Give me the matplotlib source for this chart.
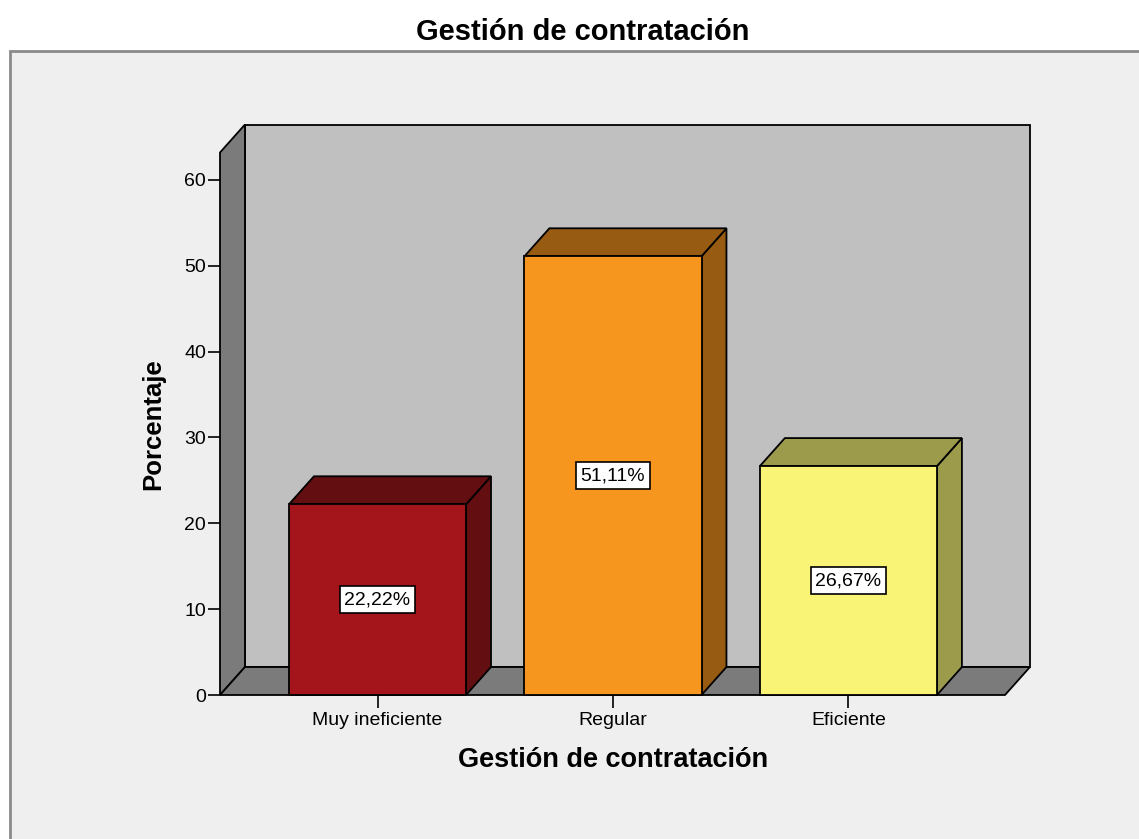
import matplotlib
matplotlib.use("Agg")
import matplotlib.pyplot as plt
from matplotlib.patches import Polygon, Rectangle

# datos
categorias = ["Muy ineficiente", "Regular", "Eficiente"]
porcentajes = [22.22, 51.11, 26.67]
colores_frente = ["#a3151a", "#f7961e", "#f9f475"]
colores_lado = ["#630e10", "#975b12", "#9c9a4b"]
ticks_y = [0, 10, 20, 30, 40, 50, 60]

plt.rcParams["font.family"] = ["Liberation Sans", "DejaVu Sans"]

W, H = 1139, 839
fig = plt.figure(figsize=(W / 100, H / 100), dpi=100)
fig.patch.set_facecolor("white")

# marco gris del grafico (estilo SPSS)
fig.patches.append(Rectangle((10 / W, -0.01), 1.0, (H - 51) / H + 0.01,
                             transform=fig.transFigure, facecolor="#efefef",
                             edgecolor="#8a8a8a", linewidth=2, zorder=-5))

fig.text(583 / W, 1 - 32 / H, "Gestión de contratación", ha="center", va="center",
         fontsize=21, fontweight="bold")

ax = fig.add_axes([220 / W, (H - 695) / H, 785 / W, 542.5 / H])
ax.patch.set_visible(False)
for s in ax.spines.values():
    s.set_visible(False)

xl, xr = -0.669, 2.665
ytop = 63.2
ax.set_xlim(xl, xr)
ax.set_ylim(0, ytop)

# profundidad 3D en unidades de datos
DX = 0.106
DY = 3.26
ancho = 0.752
borde = dict(edgecolor="black", linewidth=1.3, clip_on=False)

# paredes y piso
ax.add_patch(Rectangle((xl + DX, DY), xr - xl, ytop, facecolor="#c0c0c0", **borde))
ax.add_patch(Polygon([(xl, 0), (xl, ytop), (xl + DX, ytop + DY), (xl + DX, DY)],
                     facecolor="#7b7b7b", **borde))
ax.add_patch(Polygon([(xl, 0), (xr, 0), (xr + DX, DY), (xl + DX, DY)],
                     facecolor="#7b7b7b", **borde))

# barras
for i, (v, cf, cl) in enumerate(zip(porcentajes, colores_frente, colores_lado)):
    x0 = i - ancho / 2
    x1 = i + ancho / 2
    ax.add_patch(Polygon([(x1, 0), (x1 + DX, DY), (x1 + DX, v + DY), (x1, v)],
                         facecolor=cl, **borde))
    ax.add_patch(Polygon([(x0, v), (x0 + DX, v + DY), (x1 + DX, v + DY), (x1, v)],
                         facecolor=cl, **borde))
    ax.add_patch(Rectangle((x0, 0), ancho, v, facecolor=cf, **borde))
    ax.text(i, v / 2, f"{v:.2f}%".replace(".", ","), ha="center", va="center",
            fontsize=14, bbox=dict(boxstyle="square,pad=0.25", fc="white",
                                   ec="black", lw=1.2))

ax.set_yticks(ticks_y)
ax.set_xticks(range(len(categorias)))
ax.set_xticklabels(categorias)
ax.tick_params(axis="y", direction="out", length=9, width=1.2, pad=1, labelsize=14)
ax.tick_params(axis="x", direction="out", length=9, width=1.2, pad=3, labelsize=14)

ax.set_xlabel("Gestión de contratación", fontsize=19.5, fontweight="bold")
ax.xaxis.set_label_coords((613 - 220) / 785, (695 - 760) / 542.5)
ax.xaxis.label.set_va("center")
ax.set_ylabel("Porcentaje", fontsize=18.5, fontweight="bold")
ax.yaxis.set_label_coords((153 - 220) / 785, 0.5)
ax.yaxis.label.set_va("center")

fig.savefig("out.png", dpi=100)
